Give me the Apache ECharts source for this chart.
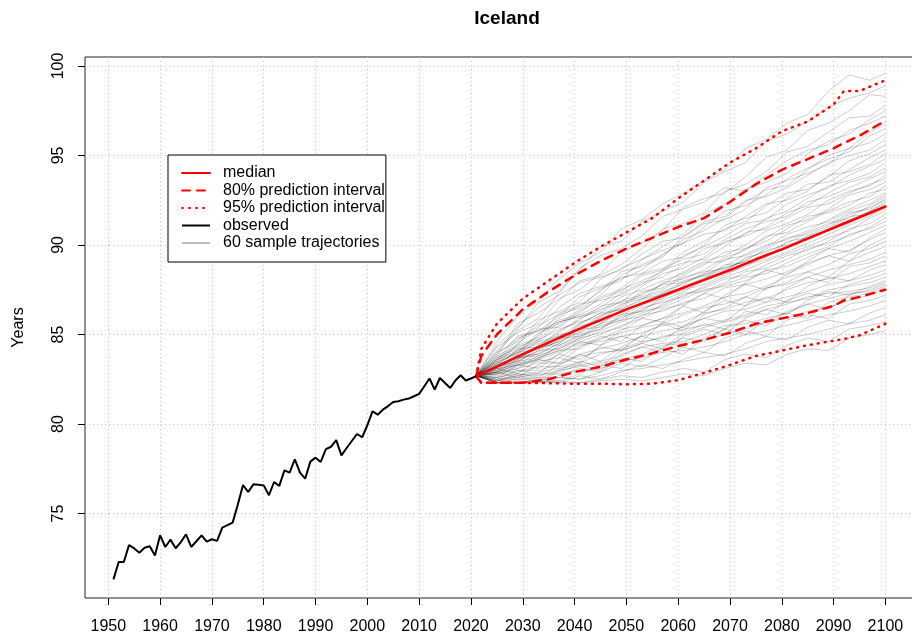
<!DOCTYPE html>
<html>
<head>
<meta charset="utf-8">
<script src="https://cdn.jsdelivr.net/npm/echarts@6/dist/echarts.min.js"></script>
<style>
html,body{margin:0;padding:0;background:#fff;}
#chart{width:912px;height:634px;}
</style>
</head>
<body>
<div id="chart"></div>
<script>
const chartTitle = 'Iceland';
const yAxisName = 'Years';
const xTicks = [1950,1960,1970,1980,1990,2000,2010,2020,2030,2040,2050,2060,2070,2080,2090,2100];
const yTicks = [75,80,85,90,95,100];
const legendNames = ['median','80% prediction interval','95% prediction interval','observed','60 sample trajectories'];

const obsYears = [1951,1952,1953,1954,1955,1956,1957,1958,1959,1960,1961,1962,1963,1964,1965,1966,1967,1968,1969,1970,
  1971,1972,1973,1974,1975,1976,1977,1978,1979,1980,1981,1982,1983,1984,1985,1986,1987,1988,1989,1990,
  1991,1992,1993,1994,1995,1996,1997,1998,1999,2000,2001,2002,2003,2004,2005,2006,2007,2008,2009,2010,
  2011,2012,2013,2014,2015,2016,2017,2018,2019,2020,2021];
const obsValues = [71.32,72.29,72.29,73.24,73.05,72.81,73.09,73.17,72.66,73.78,73.13,73.54,73.06,73.40,73.84,73.13,73.45,73.78,73.43,73.56,
  73.47,74.21,74.35,74.49,75.50,76.59,76.20,76.63,76.60,76.57,76.02,76.76,76.54,77.41,77.28,78.03,77.28,76.95,77.90,78.12,
  77.88,78.60,78.73,79.10,78.25,78.66,79.05,79.44,79.26,79.93,80.71,80.52,80.80,81.00,81.23,81.27,81.36,81.42,81.55,81.68,
  82.11,82.54,81.92,82.57,82.29,82.01,82.43,82.72,82.43,82.54,82.67];

const projYears = [2021,2022,2025,2030,2035,2040,2045,2050,2055,2060,2065,2070,2075,2080,2085,2090,2092,2095,2100];
const medianValues = [82.67,82.80,83.20,83.90,84.55,85.20,85.80,86.40,86.95,87.50,88.05,88.60,89.20,89.75,90.35,90.95,91.20,91.55,92.15];
const pi80Upper = [82.67,83.80,85.00,86.40,87.40,88.30,89.10,89.80,90.40,91.00,91.50,92.40,93.40,94.20,94.80,95.40,95.70,96.10,96.95];
const pi80Lower = [82.67,82.30,82.30,82.30,82.50,82.90,83.20,83.60,83.95,84.35,84.70,85.10,85.60,85.90,86.20,86.60,86.90,87.10,87.50];
const pi95Upper = [82.67,84.20,85.60,87.00,88.00,89.00,89.90,90.70,91.50,92.60,93.60,94.60,95.40,96.35,96.90,97.85,98.60,98.60,99.20];
const pi95Lower = [82.67,82.30,82.30,82.30,82.28,82.25,82.25,82.22,82.25,82.45,82.85,83.30,83.80,84.10,84.40,84.65,84.75,84.95,85.60];

const trajYears = [2021,2025,2029,2033,2037,2041,2045,2049,2053,2057,2061,2065,2069,2073,2077,2081,2085,2089,2093,2097,2100];
const trajectories = [
  [82.7,84.6,86.0,86.9,88.1,89.0,89.6,90.9,91.4,92.3,92.9,93.6,94.2,95.4,95.9,96.8,97.3,98.6,99.5,99.2,99.6],
  [82.7,84.1,85.3,86.8,87.4,88.6,89.9,90.2,91.3,91.9,92.4,93.5,94.1,94.6,95.8,96.2,96.9,97.7,98.2,98.5,98.9],
  [82.7,83.8,85.6,86.2,87.0,87.5,88.4,89.6,90.1,90.8,92.1,92.6,92.9,93.8,94.9,95.3,96.4,96.8,97.5,98.4,98.3],
  [82.7,84.3,85.1,85.6,86.9,88.0,88.3,88.9,89.8,90.9,91.2,91.8,93.0,93.4,94.1,95.2,95.5,96.3,97.1,97.2,97.8],
  [82.7,83.5,84.4,85.8,86.3,86.8,88.1,88.7,89.2,89.9,90.6,91.7,92.3,93.1,93.5,94.0,95.1,95.8,96.2,97.0,97.5],
  [82.7,84.0,85.2,85.9,87.3,88.7,89.4,89.8,90.5,91.6,92.0,92.4,93.2,93.0,93.9,94.7,95.3,95.6,96.4,96.8,97.2],
  [82.7,83.4,84.0,85.1,85.6,86.4,87.2,88.3,88.9,89.4,90.3,90.8,91.5,92.4,93.1,93.3,94.2,95.0,95.4,96.3,96.8],
  [82.7,83.9,84.8,85.2,86.0,87.1,87.6,88.0,89.2,89.7,90.1,91.0,91.9,92.2,92.8,93.7,94.3,94.8,95.2,96.1,96.5],
  [82.7,83.1,84.2,84.9,86.2,86.6,87.4,88.5,88.8,89.3,90.5,91.2,91.4,92.0,93.2,93.6,94.0,94.5,95.4,95.7,96.2],
  [82.7,84.4,85.4,86.5,87.2,87.9,88.2,88.6,89.5,90.2,90.4,91.3,91.6,92.5,92.7,93.2,93.9,94.6,95.0,95.3,95.9],
  [82.7,83.6,84.1,84.6,85.5,86.3,87.0,87.4,88.3,88.6,89.6,90.2,90.9,91.3,92.2,92.9,93.1,93.8,94.7,95.1,95.6],
  [82.7,83.2,83.9,85.0,85.8,86.1,86.7,87.6,88.4,89.1,89.3,90.0,91.1,91.5,91.8,92.6,93.4,93.5,94.2,94.9,95.3],
  [82.7,84.0,84.6,85.4,86.5,87.3,87.7,88.1,88.6,89.5,90.1,90.6,90.8,91.6,92.3,92.5,93.0,93.9,94.1,94.5,95.1],
  [82.7,83.3,84.5,85.3,85.4,86.2,87.1,87.5,88.0,88.5,89.4,89.9,90.5,91.2,91.4,92.3,92.8,93.2,93.9,94.4,94.8],
  [82.7,83.7,84.3,84.7,85.7,86.0,86.5,87.3,87.9,88.2,88.9,89.8,90.1,90.6,91.5,91.9,92.6,93.3,93.6,94.0,94.6],
  [82.7,82.9,83.6,84.4,85.1,85.9,86.4,86.8,87.7,88.4,88.7,89.3,90.2,90.5,91.0,91.8,92.2,92.9,93.5,93.8,94.3],
  [82.7,83.5,84.7,85.5,86.1,86.5,87.5,88.2,88.4,88.7,89.2,89.5,90.3,90.9,91.3,91.6,92.4,92.7,93.2,93.7,94.1],
  [82.7,83.0,83.8,84.2,84.6,85.6,86.2,86.9,87.2,87.8,88.5,89.1,89.4,90.0,90.8,91.2,91.7,92.5,93.0,93.3,93.9],
  [82.7,83.8,84.4,84.8,85.9,86.7,86.9,87.2,87.8,88.6,89.0,89.2,89.9,90.7,90.9,91.5,92.1,92.3,92.9,93.4,93.7],
  [82.7,83.2,83.5,84.1,84.9,85.3,85.8,86.6,87.4,87.6,88.3,88.9,89.6,89.8,90.4,91.1,91.4,92.0,92.8,93.1,93.5],
  [82.7,82.8,83.4,84.3,85.0,85.2,86.1,86.4,86.9,87.9,88.1,88.6,89.3,89.7,90.5,90.7,91.3,91.9,92.4,92.7,93.3],
  [82.7,83.6,84.9,85.2,85.7,86.0,86.3,87.1,87.5,88.0,88.4,89.0,89.1,89.8,90.2,90.9,91.6,91.8,92.2,92.9,93.1],
  [82.7,83.1,83.7,83.9,84.5,85.4,85.9,86.2,86.8,87.3,88.0,88.3,88.8,89.5,90.0,90.3,90.8,91.4,92.0,92.5,92.9],
  [82.7,83.4,84.0,84.5,84.8,85.1,86.0,86.7,87.0,87.4,87.8,88.4,89.2,89.4,89.9,90.6,91.0,91.3,91.9,92.3,92.8],
  [82.7,82.9,83.3,84.0,84.7,85.5,85.7,86.1,86.6,87.3,87.6,88.2,88.5,89.3,89.6,90.1,90.7,91.2,91.5,92.2,92.7],
  [82.7,83.7,84.2,84.3,85.2,85.8,86.6,86.8,87.1,87.5,88.2,88.5,88.7,89.1,89.8,90.4,90.6,91.1,91.8,92.0,92.6],
  [82.7,83.0,83.6,84.4,84.4,84.9,85.6,86.3,86.7,87.0,87.7,88.1,88.9,89.0,89.5,89.9,90.5,91.0,91.7,92.1,92.5],
  [82.7,83.3,84.1,84.7,85.3,85.7,86.0,86.5,87.3,87.8,87.9,88.3,88.6,89.2,89.7,90.0,90.3,90.9,91.4,91.9,92.4],
  [82.7,82.8,83.2,83.8,84.3,84.8,85.5,85.8,86.4,86.9,87.4,88.0,88.4,88.8,89.4,89.8,90.5,90.8,91.2,91.9,92.3],
  [82.7,83.5,83.9,84.6,84.9,85.6,86.2,86.4,87.0,87.2,87.9,88.4,88.7,89.1,89.3,90.2,90.4,90.9,91.6,91.7,92.2],
  [82.7,83.1,83.3,83.6,84.4,85.0,85.3,86.0,86.3,87.1,87.5,87.8,88.3,88.9,89.2,89.6,90.1,90.6,91.1,91.6,92.1],
  [82.7,83.6,84.0,84.2,84.6,85.1,85.6,85.9,86.5,86.8,87.1,87.7,88.2,88.6,89.1,89.5,89.9,90.4,90.8,91.5,91.9],
  [82.7,82.9,83.5,84.1,84.2,84.7,85.2,85.7,86.2,86.6,87.2,87.6,88.1,88.3,88.9,89.4,89.7,90.2,90.9,91.2,91.7],
  [82.7,83.2,83.8,83.9,84.5,85.3,85.4,85.8,86.0,86.7,87.3,87.4,87.9,88.5,88.7,89.2,89.8,90.1,90.5,91.0,91.5],
  [82.7,82.8,83.1,83.7,84.1,84.6,85.0,85.5,85.9,86.4,86.7,87.3,87.8,88.2,88.4,89.0,89.5,89.9,90.6,90.9,91.3],
  [82.7,83.4,83.6,84.3,84.8,84.9,85.3,86.1,86.3,86.5,87.0,87.5,87.7,88.0,88.6,88.8,89.3,89.8,90.2,90.7,91.1],
  [82.7,82.6,83.3,83.1,83.9,84.6,84.4,85.2,85.9,85.7,86.6,87.3,87.0,87.9,88.6,88.3,89.1,89.8,89.6,90.4,90.9],
  [82.7,83.3,83.7,83.8,84.2,84.8,85.1,85.4,86.1,86.3,86.8,87.0,87.6,87.8,88.1,88.5,89.0,89.4,89.7,90.3,90.7],
  [82.7,83.1,82.8,83.6,83.4,84.3,84.9,84.6,85.5,85.9,86.6,86.2,87.2,87.8,87.5,88.4,88.9,89.4,89.1,90.0,90.4],
  [82.7,83.0,83.4,83.6,84.0,84.5,84.7,85.3,85.5,85.9,86.2,86.6,87.1,87.3,87.7,88.2,88.5,88.9,89.5,89.8,90.2],
  [82.7,82.5,83.0,82.8,83.7,83.4,84.4,84.9,84.6,85.7,85.4,86.3,86.9,86.6,87.6,87.9,88.5,88.2,89.1,89.6,89.9],
  [82.7,83.2,83.5,83.7,84.1,84.2,84.8,85.1,85.4,85.6,86.1,86.5,86.7,87.1,87.6,87.8,88.2,88.6,88.9,89.2,89.6],
  [82.7,82.9,82.6,83.3,83.9,83.6,84.3,84.1,85.0,85.6,85.2,86.1,86.5,87.1,86.8,87.6,88.2,87.9,88.8,89.0,89.4],
  [82.7,82.9,83.3,83.5,83.7,84.4,84.6,84.9,85.1,85.5,85.7,86.2,86.4,86.8,87.0,87.5,87.9,88.1,88.4,88.8,89.1],
  [82.7,82.4,82.8,82.6,83.3,83.9,83.5,84.3,84.9,84.6,85.5,85.9,85.7,86.6,87.1,86.8,87.7,88.2,88.0,88.6,88.9],
  [82.7,82.8,83.1,83.4,83.4,83.9,84.2,84.5,84.9,85.2,85.4,85.9,86.3,86.4,86.8,87.1,87.4,87.8,88.0,88.3,88.6],
  [82.7,82.4,82.7,82.5,83.0,83.5,83.2,84.1,84.5,84.2,85.1,85.6,85.3,86.3,86.1,86.9,87.3,87.1,87.8,88.1,88.4],
  [82.7,82.6,82.9,83.2,83.2,83.4,83.9,84.2,84.6,84.8,85.3,85.5,85.8,86.1,86.6,86.8,87.0,87.5,87.7,87.9,88.2],
  [82.7,82.4,82.6,82.4,82.9,83.3,83.0,83.9,84.3,84.0,84.9,85.3,85.0,85.9,86.4,86.1,86.9,87.4,87.2,87.7,88.0],
  [82.7,82.7,83.0,83.0,83.3,83.8,84.0,84.1,84.5,84.9,85.0,85.4,85.7,86.0,86.4,86.7,87.1,87.3,87.4,87.6,87.9],
  [82.7,82.3,82.5,82.4,82.7,83.1,82.9,83.7,83.5,84.3,84.8,84.6,85.3,85.8,85.5,86.3,86.7,86.4,87.2,87.5,87.8],
  [82.7,82.5,82.7,82.9,83.1,83.3,83.5,83.8,84.3,84.5,84.6,85.0,85.5,85.6,85.9,86.2,86.7,87.0,87.3,87.4,87.7],
  [82.7,82.3,82.3,82.5,82.4,82.8,83.3,83.1,83.8,84.2,83.9,84.8,85.3,85.0,85.8,86.2,85.9,86.8,87.1,87.3,87.6],
  [82.7,82.6,82.8,82.7,83.0,83.2,83.4,83.6,83.9,84.4,84.5,84.7,85.0,85.3,85.7,85.9,86.3,86.5,86.9,87.2,87.5],
  [82.7,82.3,82.4,82.3,82.6,82.5,82.9,83.4,83.2,83.7,84.3,84.0,84.8,85.2,84.9,85.8,86.1,85.9,86.7,86.9,87.2],
  [82.7,82.5,82.6,82.8,82.8,83.0,83.1,83.5,83.7,84.0,84.1,84.3,84.6,85.0,85.2,85.5,85.8,86.1,86.3,86.6,86.9],
  [82.7,82.3,82.3,82.4,82.3,82.7,82.5,82.9,83.3,83.1,83.6,84.0,83.8,84.5,84.9,84.7,85.4,85.8,85.6,86.2,86.5],
  [82.7,82.4,82.5,82.6,82.6,82.5,82.7,83.0,83.1,83.3,83.5,83.7,83.9,84.2,84.6,84.8,85.0,85.3,85.6,85.8,86.1],
  [82.7,82.3,82.3,82.3,82.4,82.3,82.5,82.7,82.6,82.9,83.1,82.9,83.6,83.9,83.7,84.4,84.8,84.6,85.3,85.5,85.7],
  [82.7,82.3,82.3,82.4,82.3,82.3,82.4,82.5,82.4,82.6,82.8,82.7,83.1,83.4,83.3,83.9,84.2,84.1,84.8,85.0,85.2]
];

const FONT = '"Liberation Sans", Arial, Helvetica, sans-serif';
function pairs(xs, ys) { return xs.map((x, i) => [x, ys[i]]); }

const series = [];
const trajColor = 'rgba(0,0,0,0.2)';
trajectories.forEach(t => {
  series.push({
    name: legendNames[4], type: 'line', data: pairs(trajYears, t),
    symbol: 'none', silent: true, z: 1,
    itemStyle: { color: '#bebebe' },
    lineStyle: { color: trajColor, width: 1 }
  });
});
const red = '#ff0000';
const dashed = [8, 7], dotted = [1, 6];
function redLine(name, vals, type) {
  return { name: name, type: 'line', data: pairs(projYears, vals), symbol: 'none', z: 3,
    itemStyle: { color: red },
    lineStyle: { color: red, width: 2.5, type: type, cap: 'round' } };
}
series.push(redLine(legendNames[1], pi80Upper, dashed));
series.push(redLine(legendNames[1], pi80Lower, dashed));
series.push(redLine(legendNames[2], pi95Upper, dotted));
series.push(redLine(legendNames[2], pi95Lower, dotted));
series.push(redLine(legendNames[0], medianValues, 'solid'));
series.push({ name: legendNames[3], type: 'line', data: pairs(obsYears, obsValues), symbol: 'none', z: 5,
  itemStyle: { color: '#000' },
  lineStyle: { color: '#000', width: 2 } });

const gridLine = { show: true, lineStyle: { color: '#c0c0c0', width: 1, type: [1, 3] } };

const option = {
  animation: false,
  backgroundColor: '#fff',
  textStyle: { fontFamily: FONT },
  title: {
    text: chartTitle, left: 502, top: 4, textAlign: 'center',
    textStyle: { fontFamily: FONT, fontSize: 19, fontWeight: 'bold', color: '#000' }
  },
  grid: { left: 85, top: 57, width: 832, height: 541, show: true, borderColor: '#222', borderWidth: 1,
    backgroundColor: 'transparent', containLabel: false, outerBoundsMode: 'none' },
  xAxis: {
    type: 'value', min: 1945.5, max: 2106.1,
    axisLine: { show: false },
    axisTick: { show: true, length: 7, customValues: xTicks, lineStyle: { color: '#000' } },
    axisLabel: { customValues: xTicks, fontSize: 16, color: '#000', margin: 21, fontFamily: FONT,
      formatter: v => String(v) },
    splitLine: gridLine
  },
  yAxis: {
    type: 'value', min: 70.28, max: 100.5,
    name: yAxisName, nameLocation: 'middle', nameRotate: 90, nameGap: 58,
    nameTextStyle: { fontSize: 16, color: '#000', fontFamily: FONT },
    axisLine: { show: false },
    axisTick: { show: true, length: 7, customValues: yTicks, lineStyle: { color: '#000' } },
    axisLabel: { customValues: yTicks, rotate: 90, fontSize: 16, color: '#000', margin: 18, fontFamily: FONT,
      formatter: v => String(v) },
    splitLine: gridLine
  },
  legend: {
    orient: 'vertical', left: 168, top: 155,
    padding: [10, 1, 11, 13], itemGap: 1.5, itemWidth: 28, itemHeight: 14,
    backgroundColor: '#fff', borderColor: '#000', borderWidth: 1, borderRadius: 0,
    selectedMode: false,
    itemStyle: { opacity: 0 },
    textStyle: { fontSize: 16, color: '#000', fontFamily: FONT, padding: [0, 0, 0, 8] },
    data: [
      { name: legendNames[0] },
      { name: legendNames[1] },
      { name: legendNames[2] },
      { name: legendNames[3] },
      { name: legendNames[4], lineStyle: { color: '#bebebe', width: 2 } }
    ]
  },
  series: series
};

const chart = echarts.init(document.getElementById('chart'), null, { renderer: 'canvas' });
chart.setOption(option);
</script>
</body>
</html>
